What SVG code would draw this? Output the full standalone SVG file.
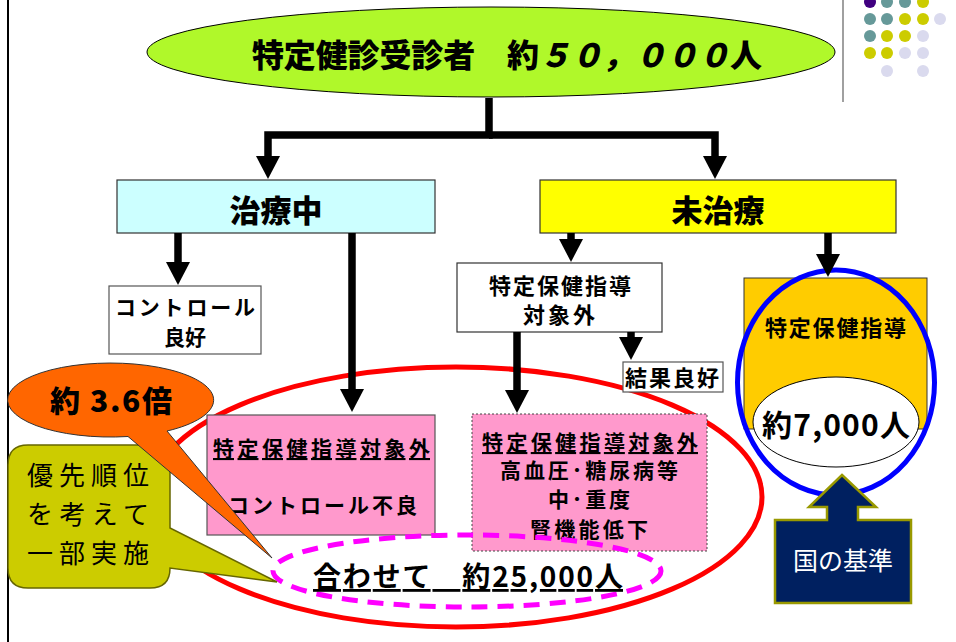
<svg xmlns="http://www.w3.org/2000/svg" width="956" height="642" viewBox="0 0 956 642">
<style>
text{font-family:"Noto Sans CJK JP","Noto Sans",sans-serif;fill:#000}
.b{font-weight:700}
.h{font-weight:900}
.c{text-anchor:middle}
.box{stroke:#333;stroke-width:1.2}
.conn path{fill:none;stroke:#000;stroke-width:7.5}
</style>
<defs>
<marker id="ah" markerUnits="userSpaceOnUse" markerWidth="23" markerHeight="24" viewBox="0 0 23 24" refX="0.5" refY="12" orient="auto">
<path d="M0,0 L23,12 L0,24 Z" fill="#000"/>
</marker>
</defs>
<rect width="956" height="642" fill="#fff"/>
<g id="decor">
<line x1="8" y1="0" x2="8" y2="642" stroke="#000" stroke-width="2"/>
<line x1="843" y1="0" x2="843" y2="102" stroke="#808080" stroke-width="1.5"/>
<g>
<circle cx="870" cy="2" r="6" fill="#400080"/>
<circle cx="887" cy="2" r="6" fill="#669999"/>
<circle cx="905" cy="2" r="6" fill="#669999"/>
<circle cx="923" cy="2" r="6" fill="#cccc00"/>
<circle cx="870" cy="19" r="6" fill="#669999"/>
<circle cx="887" cy="19" r="6" fill="#669999"/>
<circle cx="905" cy="19" r="6" fill="#cccc00"/>
<circle cx="923" cy="19" r="6" fill="#cccc00"/>
<circle cx="940" cy="19" r="6" fill="#dadaee"/>
<circle cx="870" cy="36" r="6" fill="#669999"/>
<circle cx="887" cy="36" r="6" fill="#cccc00"/>
<circle cx="905" cy="36" r="6" fill="#cccc00"/>
<circle cx="923" cy="36" r="6" fill="#dadaee"/>
<circle cx="870" cy="53" r="6" fill="#cccc00"/>
<circle cx="887" cy="53" r="6" fill="#cccc00"/>
<circle cx="905" cy="53" r="6" fill="#dadaee"/>
<circle cx="923" cy="53" r="6" fill="#dadaee"/>
<circle cx="887" cy="71" r="6" fill="#dadaee"/>
<circle cx="923" cy="71" r="6" fill="#dadaee"/>
</g>
</g>
<g id="top">
<ellipse cx="491" cy="52" rx="344" ry="45" fill="#b0f82a" stroke="#000" stroke-width="1"/>
<text x="252" y="67" font-size="32" class="h" textLength="510">特定健診受診者　約<tspan font-style="italic">５０，０００</tspan>人</text>
</g>
<g id="group25000">
<ellipse cx="456" cy="497" rx="306" ry="130" fill="none" stroke="#ff0000" stroke-width="5"/>
</g>
<g id="chiryochu">
<rect x="117" y="180" width="318" height="53" fill="#ccffff" class="box"/>
<text x="276" y="222" font-size="31" class="h c">治療中</text>
</g>
<g id="michiryo">
<rect x="540" y="180" width="356" height="53" fill="#ffff00" class="box"/>
<text x="718" y="222" font-size="31" class="h c">未治療</text>
</g>
<g id="control-good">
<rect x="109" y="286" width="152" height="68" fill="#fff" stroke="#555" stroke-width="1.2"/>
<text x="115" y="315" font-size="21" class="b" textLength="140">コントロール</text>
<text x="185" y="345" font-size="21" class="b c">良好</text>
</g>
<g id="taishogai">
<rect x="457" y="263" width="205" height="69" fill="#fff" class="box"/>
<text x="489" y="294" font-size="22" class="b" textLength="142">特定保健指導</text>
<text x="523" y="323" font-size="22" class="b" textLength="72">対象外</text>
</g>
<g id="kekka-good">
<rect x="623" y="362" width="100" height="30" fill="#fff" stroke="#555" stroke-width="1.2"/>
<text x="625" y="386" font-size="22" class="b" textLength="94">結果良好</text>
</g>
<g id="control-bad">
<rect x="207" y="415" width="228" height="120" fill="#ff99cc" stroke="#555" stroke-width="1.2"/>
<text x="213" y="456" font-size="21" class="b" textLength="217" text-decoration="underline">特定保健指導対象外</text>
<text x="228" y="513" font-size="21" class="b" textLength="189">コントロール不良</text>
</g>
<g id="hypertension">
<rect x="472" y="414" width="235" height="137" fill="#ff99cc" stroke="#444" stroke-width="1" stroke-dasharray="2 2"/>
<text x="482" y="450" font-size="21" class="b" textLength="216" text-decoration="underline">特定保健指導対象外</text>
<text x="500" y="478" font-size="21" class="b" textLength="178">高血圧･糖尿病等</text>
<text x="548" y="507" font-size="21" class="b" textLength="82">中･重度</text>
<text x="530" y="537" font-size="21" class="b" textLength="118">腎機能低下</text>
</g>
<g id="total25000">
<ellipse cx="467" cy="571" rx="194" ry="36" fill="none" stroke="#ff00ff" stroke-width="5" stroke-dasharray="16 10"/>
<text x="313" y="587" font-size="28" class="b" textLength="310" text-decoration="underline">合わせて　約25,000人</text>
</g>
<g id="hokenshido">
<rect x="744" y="278" width="183" height="151" fill="#ffcc00" stroke="#333" stroke-width="1"/>
<text x="765" y="336" font-size="22" class="b" textLength="141">特定保健指導</text>
<ellipse cx="836" cy="422" rx="83" ry="45" fill="#fff" stroke="#000" stroke-width="1"/>
<text x="762" y="436" font-size="30" class="b" textLength="148">約7,000人</text>
<ellipse cx="836" cy="382.5" rx="98.5" ry="112.5" fill="none" stroke="#0000ff" stroke-width="5"/>
</g>
<g id="connectors" class="conn">
<path d="M489,98 V135 H268 V156.5" marker-end="url(#ah)"/>
<path d="M489,135 H715 V156.5" marker-end="url(#ah)"/>
<path d="M178,233 V262.5" marker-end="url(#ah)"/>
<path d="M352,233 V389.5" marker-end="url(#ah)"/>
<path d="M571,233 V239.5" marker-end="url(#ah)"/>
<path d="M828,233 V254.5" marker-end="url(#ah)"/>
<path d="M517,332 V390.5" marker-end="url(#ah)"/>
<path d="M631,332 V337.5" marker-end="url(#ah)"/>
</g>
<g id="callout-priority">
<path d="M28,445 H150 Q170,445 170,465 V528 L277,582 L170,568 Q170,588 150,588 H28 Q8,588 8,568 V465 Q8,445 28,445 Z" fill="#cccc00" stroke="#666600" stroke-width="1.5"/>
<text x="27" y="485" font-size="26" textLength="122">優先順位</text>
<text x="27" y="524" font-size="26" textLength="122">を考えて</text>
<text x="27" y="563" font-size="26" textLength="122">一部実施</text>
</g>
<g id="callout-ratio">
<path d="M167,431 A103,37 0 1 0 128,436.5 L272,558 Z" fill="#ff6600" stroke="#333" stroke-width="1"/>
<text x="50" y="412" font-size="30" class="h" textLength="122">約 3.6倍</text>
</g>
<g id="kuni-kijun">
<path d="M842,475 L876,507 H858 V520 H911 V603 H775 V520 H827 V507 H809 Z" fill="#002060" stroke="#999900" stroke-width="2.5"/>
<text x="843" y="570" font-size="25" class="c" style="fill:#fff">国の基準</text>
</g>
</svg>
